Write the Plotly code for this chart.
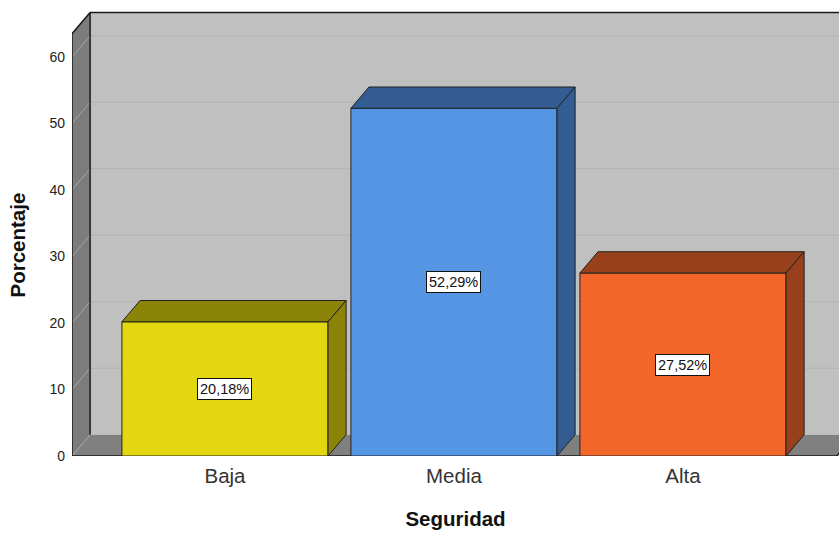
import plotly.graph_objects as go

# Data
categories = ["Baja", "Media", "Alta"]
percentages = [20.18, 52.29, 27.52]
front_colors = ["#e3d70f", "#5596e4", "#f2662a"]
shade_colors = ["#8c8409", "#335d92", "#97401b"]
y_ticks = [0, 10, 20, 30, 40, 50, 60]

# 3D look: depth offset of the box (category units / value units)
DX = 0.079
DY = 3.2
BAR_W = 0.9
X_LEFT = -0.668
X_RIGHT = 2.672
X_FAR = 3.2
Y_TOP = 63.5

W, H = 839, 534
ML, MR, MT, MB = 72, 0, 0, 78
px_per_cat = 229.0
px_per_val = 6.65
x_range = [X_LEFT, X_LEFT + (W - ML - MR) / px_per_cat]
y_range = [0, (H - MT - MB) / px_per_val]

FONT = "Liberation Sans, Arial"

pos = list(range(len(categories)))

fig = go.Figure()


def poly_path(pts):
    return "M " + " L ".join(f"{x},{y}" for x, y in pts) + " Z"


shapes = []
# back wall
shapes.append(dict(type="path", layer="below", xref="x", yref="y",
                   path=poly_path([(X_LEFT + DX, DY), (X_FAR, DY),
                                   (X_FAR, Y_TOP + DY), (X_LEFT + DX, Y_TOP + DY)]),
                   fillcolor="#c0c0c0", line=dict(width=0)))
# left wall
shapes.append(dict(type="path", layer="below", xref="x", yref="y",
                   path=poly_path([(X_LEFT, 0), (X_LEFT + DX, DY),
                                   (X_LEFT + DX, Y_TOP + DY), (X_LEFT, Y_TOP)]),
                   fillcolor="#7c7c7c", line=dict(width=0)))
# floor
shapes.append(dict(type="path", layer="below", xref="x", yref="y",
                   path=poly_path([(X_LEFT, 0), (X_RIGHT, 0),
                                   (X_RIGHT + DX, DY), (X_LEFT + DX, DY)]),
                   fillcolor="#808080", line=dict(width=0)))
# grid lines on the back and left walls
for v in y_ticks[1:]:
    shapes.append(dict(type="line", layer="below", xref="x", yref="y",
                       x0=X_LEFT + DX, x1=X_FAR, y0=v + DY, y1=v + DY,
                       line=dict(color="#b2b2b2", width=1)))
    shapes.append(dict(type="line", layer="below", xref="x", yref="y",
                       x0=X_LEFT, x1=X_LEFT + DX, y0=v, y1=v + DY,
                       line=dict(color="#a6a6a6", width=1)))
shapes.append(dict(type="line", layer="below", xref="x", yref="y",
                   x0=X_LEFT, x1=X_LEFT + DX, y0=0, y1=DY,
                   line=dict(color="#a6a6a6", width=1)))
# frame edges
edge = dict(color="#1a1a1a", width=1.5)
shapes.append(dict(type="line", layer="below", xref="x", yref="y",
                   x0=X_LEFT + DX, x1=X_LEFT + DX, y0=DY, y1=Y_TOP + DY, line=edge))
shapes.append(dict(type="line", layer="below", xref="x", yref="y",
                   x0=X_LEFT, x1=X_LEFT, y0=0, y1=Y_TOP, line=edge))
shapes.append(dict(type="line", layer="below", xref="x", yref="y",
                   x0=X_LEFT, x1=X_LEFT + DX, y0=Y_TOP, y1=Y_TOP + DY, line=edge))
shapes.append(dict(type="line", layer="below", xref="x", yref="y",
                   x0=X_LEFT + DX, x1=X_FAR, y0=Y_TOP + DY, y1=Y_TOP + DY, line=edge))
shapes.append(dict(type="line", layer="below", xref="x", yref="y",
                   x0=X_LEFT, x1=X_RIGHT, y0=0, y1=0, line=edge))
shapes.append(dict(type="line", layer="below", xref="x", yref="y",
                   x0=X_RIGHT, x1=X_RIGHT + DX, y0=0, y1=DY, line=edge))

# front faces of the bars
fig.add_trace(go.Bar(
    x=pos, y=percentages, width=BAR_W,
    marker=dict(color=front_colors, line=dict(color="#222222", width=1)),
    hoverinfo="skip", showlegend=False,
))

# top and side faces
for p, v, c in zip(pos, percentages, shade_colors):
    l, r = p - BAR_W / 2, p + BAR_W / 2
    top = [(l, v), (r, v), (r + DX, v + DY), (l + DX, v + DY), (l, v)]
    side = [(r, 0), (r + DX, DY), (r + DX, v + DY), (r, v), (r, 0)]
    for pts in (top, side):
        fig.add_trace(go.Scatter(
            x=[q[0] for q in pts], y=[q[1] for q in pts],
            mode="lines", fill="toself", fillcolor=c,
            line=dict(color="#222222", width=1),
            hoverinfo="skip", showlegend=False,
        ))

# value labels
annotations = []
for p, v in zip(pos, percentages):
    annotations.append(dict(
        x=p, y=v / 2, xref="x", yref="y",
        text=f"{v:.2f}".replace(".", ",") + "%",
        showarrow=False, bgcolor="white", bordercolor="#111111",
        borderwidth=1, borderpad=2,
        font=dict(family=FONT, size=14.5, color="#111111"),
    ))

annotations.append(dict(
    x=0, y=(H - MB - 245) / (H - MT - MB), xref="paper", yref="paper",
    xshift=-68, text="<b>Porcentaje</b>", textangle=-90, showarrow=False,
    font=dict(family=FONT, size=20.5, color="#111111"),
))

fig.update_layout(
    width=W, height=H,
    margin=dict(l=ML, r=MR, t=MT, b=MB),
    paper_bgcolor="white", plot_bgcolor="white",
    shapes=shapes, annotations=annotations,
    xaxis=dict(
        range=x_range, tickvals=pos, ticktext=categories,
        showgrid=False, zeroline=False, showline=False, ticks="",
        ticklabelstandoff=5,
        tickfont=dict(family=FONT, size=20.5, color="#333333"),
        title=dict(text="<b>Seguridad</b>", standoff=26,
                   font=dict(family=FONT, size=20.5, color="#111111")),
    ),
    yaxis=dict(
        range=y_range, tickvals=y_ticks,
        showgrid=False, zeroline=False, showline=False, ticks="",
        ticklabelstandoff=6,
        tickfont=dict(family=FONT, size=14, color="#222222"),
    ),
)

fig.write_html("out.html")
